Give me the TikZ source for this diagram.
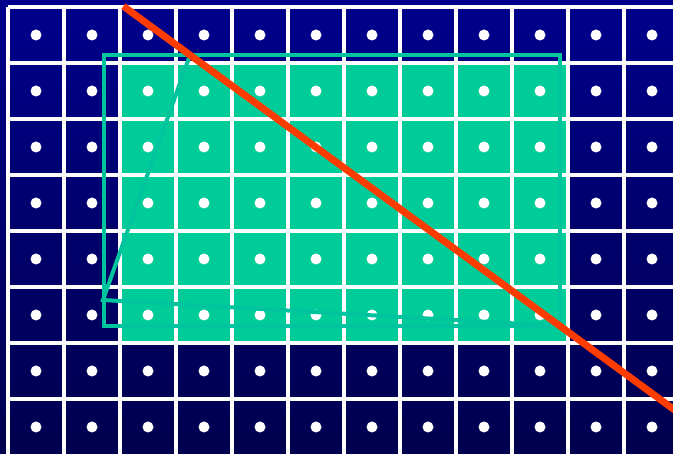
\documentclass[tikz,border=0pt]{standalone}
\usepackage{tikz}
\usetikzlibrary{calc}
\definecolor{GridBlueTop}{HTML}{00008C}
\definecolor{GridBlueBottom}{HTML}{00004E}
\definecolor{CoverGreen}{HTML}{00CC99}
\definecolor{BoxTeal}{HTML}{00C49E}
\definecolor{EdgeRed}{HTML}{FF3C00}
\tikzset{
  gridline/.style={draw=white,line width=3.5pt},
  pixeldot/.style={fill=white},
  coveredcell/.style={fill=CoverGreen},
  boxline/.style={draw=BoxTeal,line width=3.5pt},
  triline/.style={draw=BoxTeal,line width=4pt,line join=miter},
  edgeline/.style={draw=EdgeRed,line width=7pt}
}

\begin{document}
\begin{tikzpicture}[x=1pt,y=-1pt]
\useasboundingbox (0,0) rectangle (673,454);
\begin{scope}
\clip (0,0) rectangle (673,454);
\shade[top color=GridBlueTop,bottom color=GridBlueBottom] (0,0) rectangle (673,454);
% pixels inside the bounding box
\fill[coveredcell] (120,63) rectangle (568,343);
% pixel grid
\foreach \c in {0,...,11}
  \draw[gridline] (8+56*\c,7) -- (8+56*\c,460);
\foreach \r in {0,...,7}
  \draw[gridline] (8,7+56*\r) -- (680,7+56*\r);
\foreach \c in {0,...,11}
  \foreach \r in {0,...,7}
    \fill[pixeldot] (36+56*\c,35+56*\r) circle (5.5pt);
% triangle and its bounding box
\coordinate (top) at (190,55);
\coordinate (left) at (103,300);
\coordinate (right) at (560,326);
\draw[boxline] (104,55) rectangle (560,326);
\draw[triline] (top) -- (left) -- (right) -- cycle;
% edge through top and right vertex
\draw[edgeline] ($(top)!-0.18!(right)$) -- ($(top)!1.4!(right)$);
\end{scope}
\end{tikzpicture}
\end{document}
